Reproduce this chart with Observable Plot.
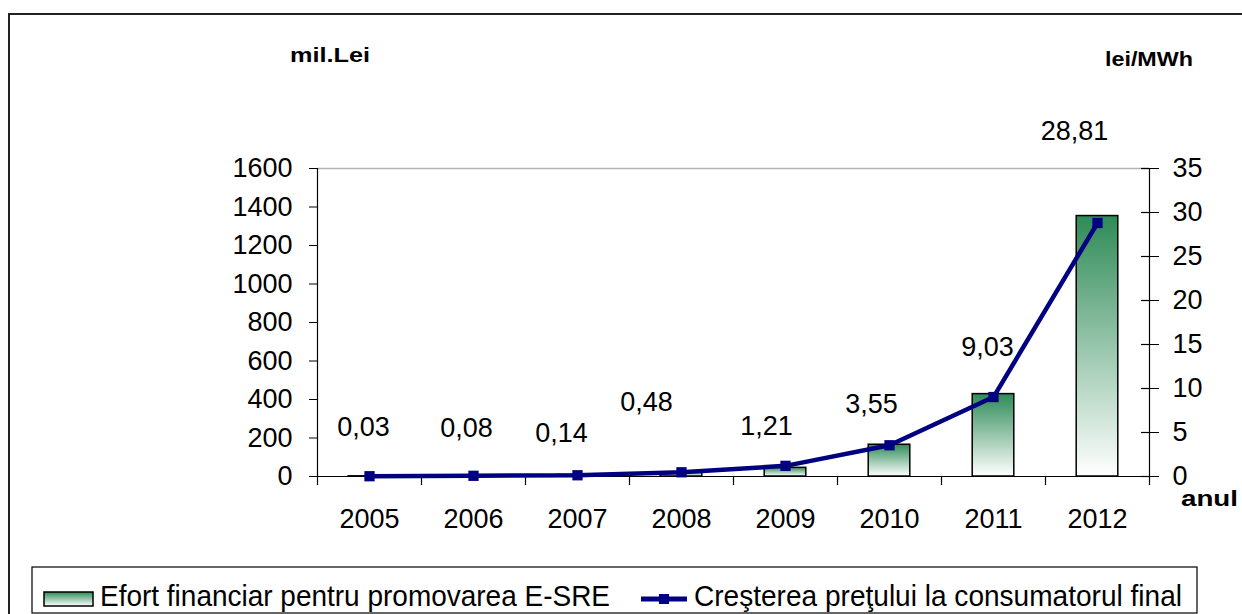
<!DOCTYPE html>
<html>
<head>
<meta charset="utf-8">
<script src="https://cdn.jsdelivr.net/npm/d3@7"></script>
<script src="https://cdn.jsdelivr.net/npm/@observablehq/plot@0.6"></script>
<style>
  body { margin: 0; background: #fff; }
  #wrap { position: relative; width: 1242px; height: 614px; overflow: hidden; background: #fff; }
  #chart { position: absolute; left: 0; top: 0; }
  #overlay { position: absolute; left: 0; top: 0; pointer-events: none; }
</style>
</head>
<body>
<div id="wrap">
  <div id="chart"></div>
  <svg id="overlay" width="1242" height="614"></svg>
</div>
<script>
// ---- data ----
const years = [2005, 2006, 2007, 2008, 2009, 2010, 2011, 2012];
const effort = [1, 3, 8, 22, 45, 165, 428, 1353];            // mil. Lei (bars, left axis)
const priceIncrease = [0.03, 0.08, 0.14, 0.48, 1.21, 3.55, 9.03, 28.81]; // lei/MWh (line, right axis)
const priceLabels = ["0,03", "0,08", "0,14", "0,48", "1,21", "3,55", "9,03", "28,81"];
const leftTicks = [0, 200, 400, 600, 800, 1000, 1200, 1400, 1600];
const rightTicks = [0, 5, 10, 15, 20, 25, 30, 35];
const leftMax = 1600, rightMax = 35;
const seriesNames = ["Efort financiar pentru promovarea E-SRE", "Creşterea preţului la consumatorul final"];
const unitLeft = "mil.Lei", unitRight = "lei/MWh", unitX = "anul";

const rows = years.map((year, i) => ({year, effort: effort[i], price: priceIncrease[i], label: priceLabels[i]}));
const k = leftMax / rightMax; // right-axis value -> left-axis units
const bounds = d3.range(years.length + 1).map(i => years[0] - 0.5 + i);

// label nudges (pixels) as placed in the original
const labelDx = [-6, -7, -16, -35, -19, -18, -6, -23];
const labelDy = [-49, -47, -42, -70, -39, -41, -50, -92];

const navy = "#000080";
const numFont = 27;

function gradientDefs() {
  const defs = d3.create("svg:defs");
  const g = defs.append("linearGradient").attr("id", "barGrad")
    .attr("x1", 0).attr("y1", 0).attr("x2", 0).attr("y2", 1);
  g.append("stop").attr("offset", "0%").attr("stop-color", "#2e8b57");
  g.append("stop").attr("offset", "100%").attr("stop-color", "#ffffff");
  return defs.node();
}

const chart = Plot.plot({
  width: 1242,
  height: 560,
  marginLeft: 317,
  marginRight: 93,
  marginTop: 168,
  marginBottom: 84,
  style: {fontFamily: "'Liberation Sans', Arial, sans-serif", fontSize: numFont + "px", color: "#000", background: "transparent", overflow: "visible"},
  x: {type: "linear", domain: [years[0] - 0.5, years[years.length - 1] + 0.5], axis: null, label: null},
  y: {domain: [0, leftMax], axis: null, label: null},
  marks: [
    gradientDefs,
    Plot.ruleY([leftMax], {stroke: "#b4b4b4", strokeWidth: 1.5}),
    Plot.rectY(rows, {x1: d => d.year - 0.2, x2: d => d.year + 0.2, y: "effort", fill: "url(#barGrad)", stroke: "#000", strokeWidth: 1.5}),
    Plot.frame({anchor: "left", stroke: "#000", strokeWidth: 1.2}),
    Plot.frame({anchor: "right", stroke: "#000", strokeWidth: 1.2}),
    Plot.frame({anchor: "bottom", stroke: "#000", strokeWidth: 1.2}),
    Plot.axisY(leftTicks, {anchor: "left", label: null, tickSize: 8, tickPadding: 17, tickFormat: d => String(d), fontSize: numFont}),
    Plot.axisY(rightTicks.map(v => v * k), {anchor: "right", label: null, tickSize: 9, tickPadding: 14, tickFormat: d => String(Math.round(d / k)), fontSize: numFont}),
    Plot.tickY(rightTicks.map(v => v * k), {y: d => d, insetLeft: 832 - 8, stroke: "#000", strokeWidth: 1.2}),
    Plot.axisX(bounds, {anchor: "bottom", label: null, tickSize: 9, tickFormat: () => "", strokeWidth: 1.2}),
    Plot.axisX(years, {anchor: "bottom", label: null, tickSize: 0, tickPadding: 32, tickFormat: d => String(d), fontSize: numFont}),
    Plot.line(rows, {x: "year", y: d => d.price * k, stroke: navy, strokeWidth: 4.5}),
    Plot.dot(rows, {x: "year", y: d => d.price * k, symbol: "square", r: 5.8, fill: navy, stroke: "none"}),
    ...rows.map((r, i) => Plot.text([r], {x: "year", y: d => d.price * k, text: "label", dx: labelDx[i], dy: labelDy[i], fontSize: numFont, fill: "#000"}))
  ]
});
document.getElementById("chart").appendChild(chart);

// ---- overlay: frame, unit labels, legend ----
const ov = d3.select("#overlay");
const ff = "'Liberation Sans', Arial, sans-serif";
const defs = ov.append("defs");
const lg = defs.append("linearGradient").attr("id", "legGrad2").attr("x1", 0).attr("y1", 0).attr("x2", 0).attr("y2", 1);
lg.append("stop").attr("offset", "0%").attr("stop-color", "#2e8b57");
lg.append("stop").attr("offset", "100%").attr("stop-color", "#ffffff");

ov.append("path").attr("d", "M9,620 V14 H1250").attr("fill", "none").attr("stroke", "#222").attr("stroke-width", 2);

ov.append("text").attr("x", 290).attr("y", 62).attr("font-family", ff).attr("font-weight", "bold").attr("font-size", 20)
  .attr("textLength", 80).attr("lengthAdjust", "spacingAndGlyphs").text(unitLeft);
ov.append("text").attr("x", 1105).attr("y", 66).attr("font-family", ff).attr("font-weight", "bold").attr("font-size", 21)
  .attr("textLength", 88).attr("lengthAdjust", "spacingAndGlyphs").text(unitRight);
ov.append("text").attr("x", 1181).attr("y", 506).attr("font-family", ff).attr("font-weight", "bold").attr("font-size", 22)
  .attr("textLength", 57).attr("lengthAdjust", "spacingAndGlyphs").text(unitX);

// legend
ov.append("rect").attr("x", 32).attr("y", 567).attr("width", 1165).attr("height", 46)
  .attr("fill", "#fff").attr("stroke", "#000").attr("stroke-width", 1.2);
ov.append("rect").attr("x", 44).attr("y", 592).attr("width", 49).attr("height", 14)
  .attr("fill", "url(#legGrad2)").attr("stroke", "#000").attr("stroke-width", 1.5);
ov.append("text").attr("x", 100).attr("y", 606).attr("font-family", ff).attr("font-size", 30)
  .attr("textLength", 510).attr("lengthAdjust", "spacingAndGlyphs").text(seriesNames[0]);
ov.append("line").attr("x1", 641).attr("x2", 687).attr("y1", 599).attr("y2", 599).attr("stroke", navy).attr("stroke-width", 5);
ov.append("rect").attr("x", 659).attr("y", 594).attr("width", 10).attr("height", 10).attr("fill", navy);
ov.append("text").attr("x", 694).attr("y", 606).attr("font-family", ff).attr("font-size", 30)
  .attr("textLength", 488).attr("lengthAdjust", "spacingAndGlyphs").text(seriesNames[1]);
</script>
</body>
</html>
